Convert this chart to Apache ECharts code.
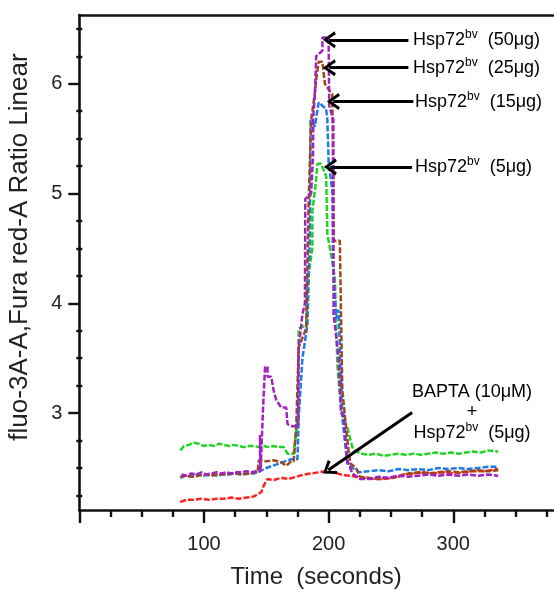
<!DOCTYPE html>
<html><head><meta charset="utf-8">
<script src="https://cdn.jsdelivr.net/npm/echarts@6/dist/echarts.min.js"></script>
<style>html,body{margin:0;padding:0;background:#fff}#c{width:554px;height:594px}</style>
</head><body><div id="c"></div>
<script>
// ---- axis ticks / labels ----
const xTicksMajor = [0, 100, 200, 300];
const xLabels = [100, 200, 300];
const xTicksMinor = [25, 50, 75, 125, 150, 175, 225, 250, 275, 325, 350, 375];
const yTicksMajor = [3, 4, 5, 6];
const yTicksMinor = [2.25, 2.5, 2.75, 3.25, 3.5, 3.75, 4.25, 4.5, 4.75, 5.25, 5.5, 5.75, 6.25, 6.5];
const yTitle = 'fluo-3A-A,Fura red-A Ratio Linear';
const xTitle = 'Time  (seconds)';

// ---- series values: [time (s), ratio] ----
const green5 = [[81,2.66],[84,2.70],[88,2.71],[92,2.73],[96,2.72],[100,2.70],[104,2.71],[108,2.70],[112,2.72],[116,2.71],[120,2.70],[124,2.71],[128,2.70],[132,2.69],[136,2.70],[140,2.70],[144,2.69],[148,2.70],[152,2.69],[156,2.70],[160,2.69],[164,2.69],[167,2.63],[172,2.63],[175.5,2.99],[176,3.77],[182,3.8],[183,4.2],[187,4.5],[187,4.84],[190,5.13],[191,5.27],[194,5.27],[198,5.16],[199,4.63],[203,4.38],[205,4.23],[206,3.86],[207,3.44],[210,3.02],[215,2.87],[219,2.69],[221,2.66],[226,2.63],[232,2.62],[238,2.63],[244,2.61],[250,2.62],[256,2.63],[262,2.62],[268,2.63],[274,2.62],[280,2.63],[286,2.64],[292,2.63],[298,2.64],[304,2.63],[310,2.64],[316,2.65],[322,2.64],[328,2.66],[336,2.65]];
const blue15 = [[81,2.41],[85,2.43],[90,2.42],[95,2.44],[100,2.43],[105,2.44],[110,2.43],[115,2.44],[120,2.44],[125,2.45],[130,2.44],[135,2.45],[140,2.45],[145,2.47],[150,2.50],[155,2.52],[160,2.54],[165,2.56],[170,2.58],[175,2.58],[176,2.96],[179,3.5],[183,3.8],[185,4.62],[185.5,5.67],[189,5.61],[192,5.83],[198,5.77],[199,5.67],[200,5.29],[203,5.02],[203.5,4.38],[206,3.86],[208,3.94],[211,2.96],[215,2.54],[219,2.50],[225,2.46],[232,2.47],[240,2.48],[248,2.47],[256,2.49],[264,2.48],[272,2.49],[280,2.48],[288,2.50],[296,2.49],[304,2.50],[312,2.49],[320,2.50],[328,2.51],[336,2.51]];
const brown25 = [[81,2.42],[86,2.43],[91,2.42],[96,2.43],[101,2.44],[106,2.43],[111,2.44],[116,2.44],[121,2.45],[126,2.45],[131,2.44],[136,2.45],[141,2.46],[143,2.46],[144,2.57],[150,2.56],[156,2.57],[162,2.55],[166,2.52],[170,2.56],[172,2.56],[174,2.87],[176,3.6],[182,3.77],[184,4.93],[186,5.67],[189,5.92],[190.5,6.08],[192,6.2],[195,6.2],[197,6.0],[203,5.9],[204,4.57],[209,4.57],[210,3.86],[211,3.21],[214,2.87],[216,2.66],[217.5,2.54],[222,2.50],[225,2.42],[232,2.41],[240,2.40],[248,2.41],[256,2.42],[264,2.45],[272,2.46],[280,2.45],[288,2.46],[296,2.47],[304,2.46],[312,2.47],[320,2.48],[328,2.47],[336,2.48]];
const purple50 = [[82,2.44],[86,2.43],[90,2.45],[94,2.44],[98,2.46],[102,2.44],[106,2.45],[110,2.46],[114,2.45],[118,2.46],[122,2.45],[126,2.46],[130,2.46],[134,2.47],[138,2.46],[142,2.47],[145,2.47],[145,2.80],[145.5,2.49],[147,2.49],[147.5,3.07],[149,3.42],[151,3.42],[151,3.33],[154,3.33],[156,3.2],[158,3.12],[162,3.05],[166,3.05],[167,2.9],[171,2.88],[175.5,2.88],[176,3.6],[179,3.9],[181,4.0],[181.3,4.95],[186,5.0],[187.5,5.35],[187.7,5.7],[189,5.9],[190,6.25],[195,6.3],[195,6.42],[200,6.42],[200.5,5.8],[203.8,5.67],[204,3.9],[208,3.5],[210,3.0],[212,2.99],[215,2.57],[219,2.45],[225,2.40],[233,2.40],[240,2.42],[248,2.41],[256,2.43],[264,2.42],[272,2.43],[280,2.44],[288,2.43],[296,2.44],[304,2.43],[312,2.44],[320,2.43],[328,2.44],[336,2.43]];
const redBapta = [[81,2.19],[86,2.21],[92,2.21],[98,2.22],[104,2.21],[110,2.22],[116,2.22],[122,2.23],[128,2.22],[134,2.23],[140,2.24],[143,2.26],[146,2.28],[148,2.34],[151,2.40],[156,2.39],[162,2.41],[168,2.40],[174,2.42],[180,2.44],[186,2.45],[192,2.46],[198,2.47],[204,2.46],[210,2.44],[216,2.43],[222,2.42],[228,2.41],[236,2.40],[244,2.40],[252,2.41],[260,2.44],[268,2.45],[276,2.46],[284,2.45],[292,2.46],[300,2.45],[308,2.46],[316,2.47],[324,2.47],[330,2.48],[336,2.49]];

// ---- annotation arrows (data coords: [startTime, startRatio, endTime, endRatio]) ----
const arrows = [[264,6.40,200.6,6.40],[264,6.146,200.6,6.146],[268,5.838,203.8,5.838],[267,5.242,201.4,5.242],[267,3.006,199.8,2.482]];

const FONT = '"Liberation Sans", Arial, sans-serif';
const chart = echarts.init(document.getElementById('c'), null, {renderer: 'canvas'});

function lineSeries(name, data, color) {
  return {
    name, type: 'line', data, xAxisIndex: 0, yAxisIndex: 0,
    showSymbol: false, symbol: 'none', smooth: false,
    lineStyle: {color, width: 2.5, type: [6, 2]},
    z: 3
  };
}
const chevron = 'path://M0,10 L6,0 L12,10 L10,11.2 L6,4 L2,11.2 Z';

const option = {
  animation: false,
  backgroundColor: '#fff',
  grid: {left: 79.3, right: 1, top: 15, bottom: 80.7, containLabel: false},
  xAxis: [
    {type: 'value', min: 0, max: 380, position: 'bottom',
     axisLine: {show: true, onZero: false, lineStyle: {color: '#111', width: 2.6}},
     axisTick: {show: true, customValues: xTicksMajor, length: 13, lineStyle: {color: '#111', width: 2.4}},
     axisLabel: {customValues: xLabels, fontSize: 20, color: '#222', fontFamily: FONT, margin: 24},
     splitLine: {show: false},
     name: xTitle, nameLocation: 'middle', nameGap: 55,
     nameTextStyle: {fontSize: 24, color: '#222', fontFamily: FONT}},
    {type: 'value', min: 0, max: 380, position: 'bottom',
     axisLine: {show: false}, axisLabel: {show: false}, splitLine: {show: false},
     axisTick: {show: true, customValues: xTicksMinor, length: 7, lineStyle: {color: '#111', width: 2.4}}},
    {type: 'value', min: 0, max: 380, position: 'top',
     axisLine: {show: true, onZero: false, lineStyle: {color: '#111', width: 2.6}},
     axisTick: {show: false}, axisLabel: {show: false}, splitLine: {show: false}}
  ],
  yAxis: [
    {type: 'value', min: 2.117, max: 6.626, position: 'left',
     axisLine: {show: true, onZero: false, lineStyle: {color: '#111', width: 2.6}},
     axisTick: {show: true, customValues: yTicksMajor, length: 11, lineStyle: {color: '#111', width: 2.4}},
     axisLabel: {customValues: yTicksMajor, fontSize: 20, color: '#222', fontFamily: FONT, margin: 17},
     splitLine: {show: false}},
    {type: 'value', min: 2.117, max: 6.626, position: 'left',
     axisLine: {show: false}, axisLabel: {show: false}, splitLine: {show: false},
     axisTick: {show: true, customValues: yTicksMinor, length: 3, lineStyle: {color: '#111', width: 2.4}}},
    {type: 'value', min: 2.117, max: 6.626, position: 'left',
     axisLine: {show: false}, axisLabel: {show: false}, splitLine: {show: false},
     axisTick: {show: true, inside: true, customValues: yTicksMinor, length: 3, lineStyle: {color: '#111', width: 2.4}}}
  ],
  series: [
    lineSeries('BAPTA (10μM) + Hsp72bv (5μg)', redBapta, '#ff2222'),
    lineSeries('Hsp72bv (5μg)', green5, '#22d422'),
    lineSeries('Hsp72bv (15μg)', blue15, '#1f7ae8'),
    lineSeries('Hsp72bv (25μg)', brown25, '#9a4a18'),
    lineSeries('Hsp72bv (50μg)', purple50, '#a321c2'),
    {type: 'line', data: [], xAxisIndex: 0, yAxisIndex: 0, silent: true, z: 5,
     markLine: {silent: true, animation: false, symbol: ['none', chevron], symbolSize: [17, 13],
       label: {show: false}, lineStyle: {color: '#000', width: 3, type: 'solid'},
       data: arrows.map(a => [{coord: [a[0], a[1]]}, {coord: [a[2], a[3]]}])}}
  ],
  graphic: (function () {
    const rich = {
      n: {fontSize: 18, fontFamily: FONT, color: '#000', lineHeight: 22},
      s: {fontSize: 12, fontFamily: FONT, color: '#000', verticalAlign: 'top', lineHeight: 22}
    };
    function lbl(x, y, dose, align) {
      return {type: 'text', x, y, style: {text: '{n|Hsp72}{s|bv}{n|  (' + dose + ')}', rich, align: align || 'left', verticalAlign: 'middle'}};
    }
    return [
      {type: 'text', x: 20, y: 247, rotation: Math.PI / 2,
       style: {text: yTitle, fontSize: 26, fontFamily: FONT, fill: '#222', align: 'center', verticalAlign: 'middle'}},
      lbl(413, 40, '50μg'), lbl(413, 68, '25μg'), lbl(415, 102, '15μg'), lbl(415, 167, '5μg'),
      {type: 'text', x: 472, y: 392, style: {text: '{n|BAPTA (10μM)}', rich, align: 'center', verticalAlign: 'middle'}},
      {type: 'text', x: 472, y: 412, style: {text: '{n|+}', rich, align: 'center', verticalAlign: 'middle'}},
      lbl(472, 433, '5μg', 'center')
    ];
  })()
};
chart.setOption(option);
</script>
</body></html>
